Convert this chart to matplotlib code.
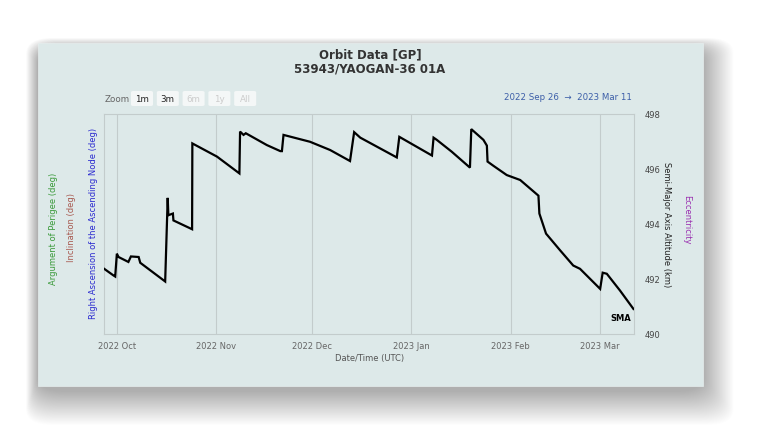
import pandas as pd
import matplotlib
matplotlib.use("Agg")
import matplotlib.pyplot as plt
import matplotlib.dates as mdates
from matplotlib.patches import Rectangle, FancyBboxPatch

# SMA altitude (km)
dates = ["2022-09-26 22:30", "2022-09-29 20:00", "2022-09-30 09:00", "2022-09-30 21:30",
         "2022-10-01 10:00", "2022-10-04 12:00", "2022-10-05 07:00", "2022-10-07 17:00",
         "2022-10-08 05:00", "2022-10-16 00:00", "2022-10-16 19:00", "2022-10-17 00:00",
         "2022-10-18 10:00", "2022-10-18 14:00", "2022-10-24 10:00", "2022-10-24 12:00",
         "2022-11-01 05:00", "2022-11-08 05:00", "2022-11-08 10:00", "2022-11-09 12:00",
         "2022-11-10 05:00", "2022-11-16 19:00", "2022-11-21 00:00", "2022-11-21 12:00",
         "2022-11-22 00:00", "2022-11-30 07:00", "2022-12-06 14:00", "2022-12-12 19:00",
         "2022-12-14 02:00", "2022-12-16 00:00", "2022-12-27 10:00", "2022-12-28 05:00",
         "2023-01-07 10:00", "2023-01-07 22:00", "2023-01-08 22:00", "2023-01-13 14:00",
         "2023-01-19 07:00", "2023-01-19 17:00", "2023-01-23 12:00", "2023-01-24 14:00",
         "2023-01-24 19:00", "2023-01-26 14:00", "2023-01-30 19:00", "2023-02-04 00:00",
         "2023-02-09 17:00", "2023-02-10 00:00", "2023-02-12 02:00", "2023-02-16 12:00",
         "2023-02-20 14:00", "2023-02-22 17:00", "2023-03-01 00:00", "2023-03-01 19:00",
         "2023-03-03 02:00", "2023-03-07 05:00", "2023-03-11 10:00"]
sma = [492.37, 492.13, 492.09, 492.92,
       492.80, 492.62, 492.82, 492.80,
       492.59, 491.91, 494.95, 494.32,
       494.38, 494.13, 493.81, 496.93,
       496.45, 495.84, 497.36, 497.24,
       497.30, 496.87, 496.65, 496.65,
       497.24, 496.99, 496.69, 496.29,
       497.34, 497.14, 496.42, 497.17,
       496.49, 497.14, 497.06, 496.63,
       496.05, 497.45, 497.06, 496.85,
       496.27, 496.12, 495.78, 495.60,
       495.03, 494.38, 493.65, 493.04,
       492.49, 492.37, 491.64, 492.23,
       492.19, 491.58, 490.91]
yticks = [490, 492, 494, 496, 498]
zoom_buttons = ["1m", "3m", "6m", "1y", "All"]

W, H = 766, 444
bg = "#dde9e9"
fig = plt.figure(figsize=(W / 100, H / 100), dpi=100)
fig.patch.set_facecolor("white")

def fx(px):
    return px / W

def fy(py):
    return 1 - py / H

# soft blurred drop shadow, then the card
for i in range(40, 0, -1):
    grow = i * 0.85
    fig.patches.append(FancyBboxPatch((fx(38 - grow * 0.35), fy(386 + 5 + grow)),
                                      fx(665 + grow * 1.25), (343 + grow * 1.3) / H,
                                      boxstyle="round,pad=0,rounding_size=0.035",
                                      transform=fig.transFigure, facecolor="black",
                                      edgecolor="none", alpha=0.009, zorder=0))
fig.patches.append(Rectangle((fx(38), fy(386)), fx(665), 343 / H, transform=fig.transFigure,
                             facecolor=bg, edgecolor="#e6eeee", lw=0.5, zorder=1))

ax = fig.add_axes([fx(104), fy(334), fx(530), 220 / H])
ax.set_facecolor(bg)
ax.set_zorder(2)

x = pd.to_datetime(dates)
ax.plot(x, sma, color="black", lw=1.6, solid_joinstyle="miter", zorder=3)

ax.set_xlim(pd.Timestamp("2022-09-26 21:00"), pd.Timestamp("2023-03-11 14:00"))
ax.set_ylim(490, 498)
ax.xaxis.set_major_locator(mdates.MonthLocator())
ax.xaxis.set_major_formatter(mdates.DateFormatter("%Y %b"))
ax.grid(axis="x", color="#c3cccc", lw=0.8)
ax.grid(axis="y", visible=False)
ax.tick_params(axis="x", length=0, pad=6, labelsize=6, labelcolor="#666666")

ax.yaxis.tick_right()
ax.set_yticks(yticks)
ax.tick_params(axis="y", length=0, pad=8, labelsize=6, labelcolor="#444444")
for s in ax.spines.values():
    s.set_color("#c3cccc")
    s.set_linewidth(0.8)

ax.text(0.995, 0.07, "SMA", transform=ax.transAxes, ha="right", va="center",
        fontsize=6, fontweight="bold", color="black")

# titles
fig.text(fx(370), fy(55), "Orbit Data [GP]", ha="center", va="center",
         fontsize=8.5, fontweight="bold", color="#333333")
fig.text(fx(370), fy(69), "53943/YAOGAN-36 01A", ha="center", va="center",
         fontsize=8.5, fontweight="bold", color="#333333")
fig.text(fx(370), fy(359), "Date/Time (UTC)", ha="center", va="center",
         fontsize=6, color="#555555")

# left axis titles
fig.text(fx(53), fy(229), "Argument of Perigee (deg)", rotation=90, ha="center",
         va="center", fontsize=6, color="#3a9a3a")
fig.text(fx(72), fy(228), "Inclination (deg)", rotation=90, ha="center",
         va="center", fontsize=6, color="#a85a50")
fig.text(fx(93), fy(223), "Right Ascension of the Ascending Node (deg)", rotation=90,
         ha="center", va="center", fontsize=6, color="#2a2ad0")
# right axis titles
fig.text(fx(667), fy(225), "Semi-Major Axis Altitude (km)", rotation=-90, ha="center",
         va="center", fontsize=6, color="#222222")
fig.text(fx(687), fy(220), "Eccentricity", rotation=-90, ha="center",
         va="center", fontsize=6, color="#9a30b0")

# range selector
fig.text(fx(105), fy(99), "Zoom", ha="left", va="center", fontsize=6.3, color="#666666")
bx = 131
for b in zoom_buttons:
    fig.patches.append(FancyBboxPatch((fx(bx), fy(106)), fx(22), 15 / H,
                                      boxstyle="round,pad=0,rounding_size=0.003",
                                      transform=fig.transFigure, facecolor="#f4f7f7",
                                      edgecolor="none", zorder=2))
    col = "#222222" if b in ("1m", "3m") else "#cccccc"
    fig.text(fx(bx + 11), fy(99), b, ha="center", va="center", fontsize=6.3,
             color=col, zorder=3)
    bx += 25.8
fig.text(fx(632), fy(98), "2022 Sep 26  \u2192  2023 Mar 11", ha="right", va="center",
         fontsize=6.2, color="#3c5ea8")

fig.savefig("out.png", dpi=100, facecolor="white")
